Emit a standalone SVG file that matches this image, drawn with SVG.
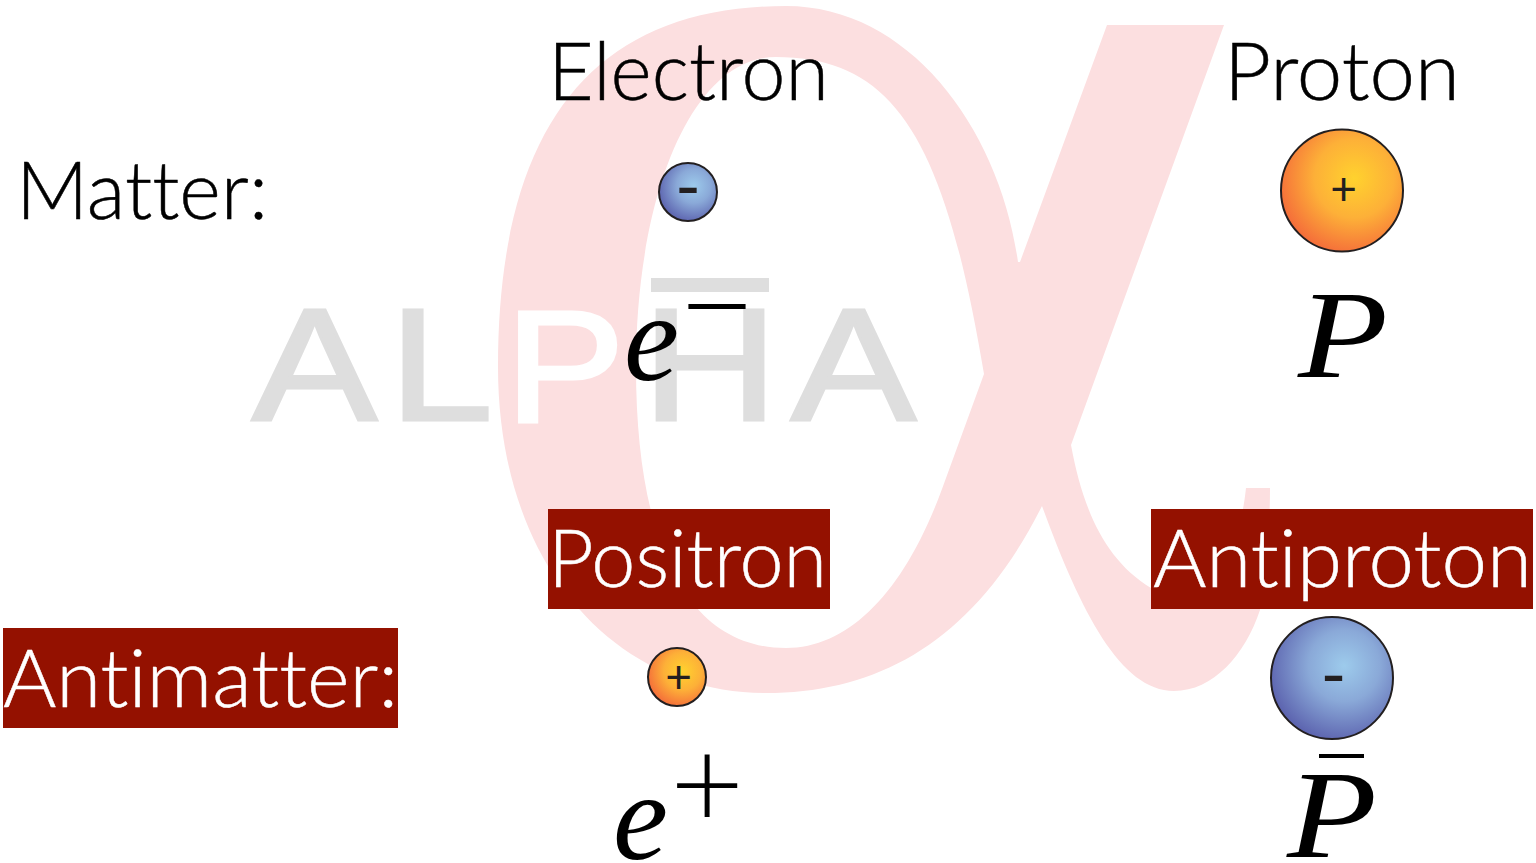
<svg xmlns="http://www.w3.org/2000/svg" width="1536" height="863" viewBox="0 0 1536 863">
<style>
.t{font-family:"Lato","Liberation Sans",sans-serif;font-weight:300;font-size:80px;fill:#000;font-variant-ligatures:none;stroke:#000;stroke-width:0.5}
.w{fill:#fff;stroke:#fff}
.logo{font-family:"Liberation Sans",sans-serif;font-size:160px;fill:#dedede;stroke:#dedede;stroke-width:3}
.m{font-family:"Liberation Serif",serif;font-style:italic;font-size:124px;fill:#000}
.sym{font-family:"Lato","Liberation Sans",sans-serif;font-weight:300;fill:#000}
.sign{font-family:"Lato","Liberation Sans",sans-serif;fill:#231f20;text-anchor:middle;font-weight:400}
.box{fill:#941100}
.ball{stroke:#231f20;stroke-width:2}
</style>
<defs>
<radialGradient id="blue" cx="0.6" cy="0.4" r="0.65"><stop offset="0" stop-color="#9dcbec"/><stop offset="0.45" stop-color="#8aa9d8"/><stop offset="1" stop-color="#5a60ad"/></radialGradient>
<radialGradient id="orange" cx="0.6" cy="0.4" r="0.65"><stop offset="0" stop-color="#ffd22e"/><stop offset="0.5" stop-color="#fdb038"/><stop offset="1" stop-color="#f46a3a"/></radialGradient>
</defs>
<rect width="1536" height="863" fill="#fff"/>
<g id="alpha-logo">
<path fill="#fcdfe0" fill-rule="evenodd" d="M786,6 C590,6 498,130 498,367 C498,560 610,693 766,693 C880,693 975,640 1042,506 C1080,610 1120,691 1174,691 C1213,691 1245,655 1260,610 C1266,570 1270,530 1270,488 L1246,488 C1245,497 1244,503 1243,509 C1238,560 1215,603 1180,603 C1170,603 1160,595 1151,588 C1105,560 1083,510 1071,445 L1224,25 L1107,25 L1020,262 L1018,262 C1000,130 910,6 786,6 Z M776,57 C895,57 945,140 984,374 L942,489 C905,590 850,648 786,648 C685,648 636,540 636,367 C636,200 690,57 776,57 Z"/>
<text class="logo" x="252" y="420" textLength="125" lengthAdjust="spacingAndGlyphs">A</text>
<text class="logo" x="389" y="420" textLength="104" lengthAdjust="spacingAndGlyphs">L</text>
<text class="logo" x="505" y="422" textLength="120" lengthAdjust="spacingAndGlyphs" style="fill:#fff;stroke:#fff">P</text>
<text class="logo" x="642" y="420" textLength="136" lengthAdjust="spacingAndGlyphs">H</text>
<rect x="651" y="278" width="118" height="14" fill="#dedede"/>
<text class="logo" x="791" y="420" textLength="125" lengthAdjust="spacingAndGlyphs">A</text>
</g>
<g id="matter-label"><text class="t" x="16" y="219" textLength="252" lengthAdjust="spacingAndGlyphs">Matter:</text></g>
<g id="electron">
<text class="t" x="548" y="100" textLength="281" lengthAdjust="spacingAndGlyphs">Electron</text>
<circle class="ball" cx="688" cy="192" r="29" fill="url(#blue)"/>
<text class="sign" x="688" y="211" font-size="70">-</text>
<text class="m" x="624" y="380">e</text>
<text class="sym" x="677" y="353" font-size="138">−</text>
</g>
<g id="proton">
<text class="t" x="1224" y="100" textLength="236" lengthAdjust="spacingAndGlyphs">Proton</text>
<circle class="ball" cx="1342" cy="190.500" r="61" fill="url(#orange)"/>
<text class="sign" x="1343.500" y="205" font-size="46">+</text>
<text class="m" x="1298" y="377" textLength="90" lengthAdjust="spacingAndGlyphs">P</text>
</g>
<g id="positron">
<rect class="box" x="548" y="509" width="282" height="100"/>
<text class="t w" x="548" y="587" textLength="279" lengthAdjust="spacingAndGlyphs">Positron</text>
<circle class="ball" cx="677" cy="677" r="29" fill="url(#orange)"/>
<text class="sign" x="678.500" y="693" font-size="46">+</text>
<text class="m" x="613" y="859">e</text>
<text class="sym" x="670" y="829" font-size="128">+</text>
</g>
<g id="antiproton">
<rect class="box" x="1151" y="509" width="382" height="100"/>
<text class="t w" x="1153" y="587" textLength="379" lengthAdjust="spacingAndGlyphs">Antiproton</text>
<circle class="ball" cx="1332" cy="678" r="61" fill="url(#blue)"/>
<text class="sign" x="1333.500" y="699" font-size="70">-</text>
<text class="m" x="1287" y="857" textLength="90" lengthAdjust="spacingAndGlyphs">P</text>
<rect x="1319" y="754" width="45" height="4" fill="#000"/>
</g>
<g id="antimatter-label">
<rect class="box" x="3" y="628" width="395" height="100"/>
<text class="t w" x="3" y="707" textLength="395" lengthAdjust="spacingAndGlyphs">Antimatter:</text>
</g>
<g id="connectors"></g>
</svg>
